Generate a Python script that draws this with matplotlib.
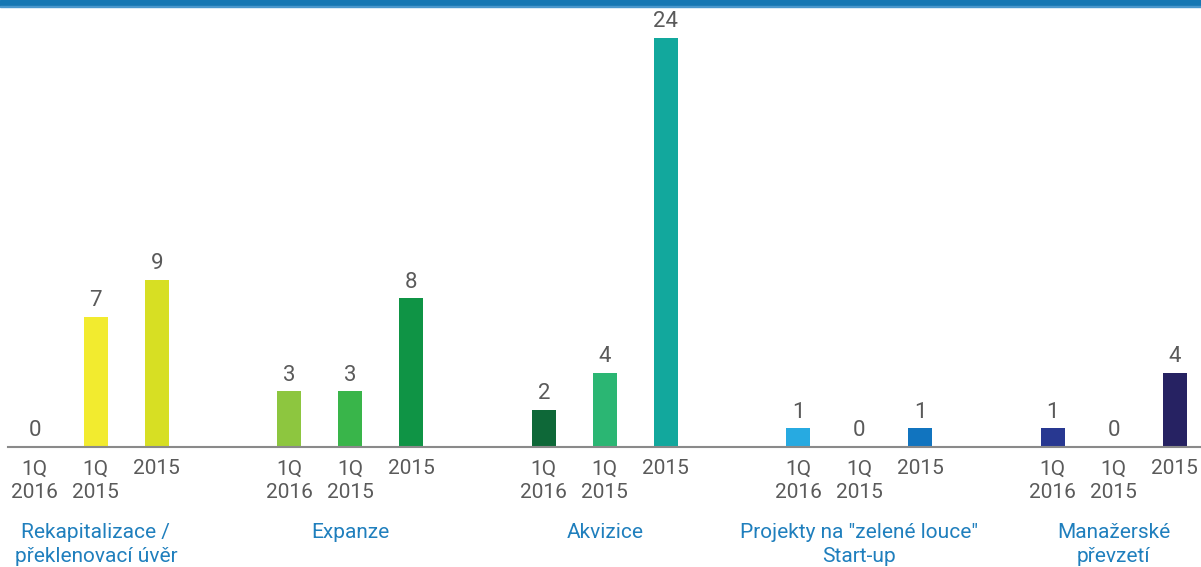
import matplotlib.pyplot as plt
from matplotlib.patches import Rectangle

plt.rcParams['font.family'] = ['Roboto', 'DejaVu Sans']

groups = ['Rekapitalizace /\npřeklenovací úvěr', 'Expanze', 'Akvizice',
          'Projekty na "zelené louce"\nStart-up', 'Manažerské\npřevzetí']
periods = ['1Q\n2016', '1Q\n2015', '2015']
values = [
    [0, 7, 9],
    [3, 3, 8],
    [2, 4, 24],
    [1, 0, 1],
    [1, 0, 4],
]
colors = [
    ['#f6ee6a', '#f2eb2f', '#d7df23'],
    ['#8dc63f', '#39b54a', '#0f9445'],
    ['#0e6838', '#2bb673', '#12a89d'],
    ['#27aae1', '#5cc3ec', '#1174bf'],
    ['#283891', '#3a4aa0', '#262262'],
]

group_step = 4.17
y_top = 22  # taller bars are cut at the top of the plot area
fs = 15

fig = plt.figure(figsize=(12.01, 5.67), dpi=100)
ax = fig.add_axes([8 / 1201, 120 / 567, 1193 / 1201, 409 / 567])

xs, labels = [], []
for g, vals in enumerate(values):
    for i, v in enumerate(vals):
        x = g * group_step + i
        xs.append(x)
        labels.append(periods[i])
        ax.bar(x, v, width=0.39, color=colors[g][i])
        ax.text(x, min(v, y_top) + 0.3, str(v), ha='center', va='bottom',
                fontsize=fs + 1, color='#5a5a5a', clip_on=False)
    ax.text(g * group_step + 1, -0.185, groups[g], transform=ax.get_xaxis_transform(),
            ha='center', va='top', fontsize=fs, color='#1f7fbd', linespacing=1.35)

ax.set_xlim(-0.44, 19.11)
ax.set_ylim(0, y_top)
ax.set_xticks(xs)
ax.set_xticklabels(labels, fontsize=fs, color='#5a5a5a', linespacing=1.32)
ax.tick_params(axis='x', length=0, pad=9)
ax.set_yticks([])
for side in ['top', 'right', 'left']:
    ax.spines[side].set_visible(False)
ax.spines['bottom'].set_color('#8a8a8a')
ax.spines['bottom'].set_linewidth(1.5)

# blue band at the top
fig.patches.append(Rectangle((0, 1 - 6 / 567), 1, 6 / 567, transform=fig.transFigure,
                             color='#1677b3', zorder=5))
fig.patches.append(Rectangle((0, 1 - 7 / 567), 1, 1.2 / 567, transform=fig.transFigure,
                             color='#4a97cc', zorder=5))

fig.savefig('out.png', dpi=100)
